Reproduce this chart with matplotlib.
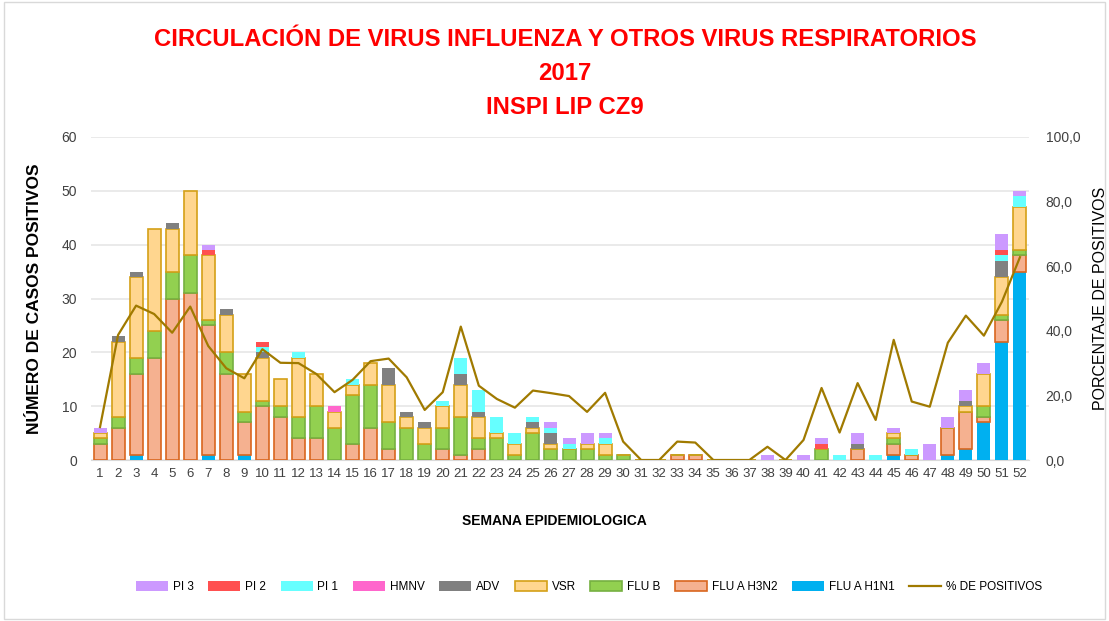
import matplotlib
matplotlib.use("Agg")
import matplotlib.pyplot as plt
import numpy as np
from matplotlib.patches import Rectangle
from matplotlib.lines import Line2D

plt.rcParams["font.family"] = ["Liberation Sans", "DejaVu Sans"]

weeks = list(range(1, 53))

h1n1 = [0,0,1,0,0,0,1,0,1,0, 0,0,0,0,0,0,0,0,0,0, 0,0,0,0,0,0,0,0,0,0,
        0,0,0,0,0,0,0,0,0,0, 0,0,0,0,1,0,0,1,2,7, 22,35]
h3n2 = [3,6,15,19,30,31,24,16,6,10, 8,4,4,0,3,6,2,0,0,2, 1,2,0,0,0,0,0,0,0,0,
        0,0,1,1,0,0,0,0,0,0, 0,0,2,0,2,1,0,5,7,1, 4,3]
flub = [1,2,3,5,5,7,1,4,2,1, 2,4,6,6,9,8,5,6,3,4, 7,2,4,1,5,2,2,2,1,1,
        0,0,0,0,0,0,0,0,0,0, 2,0,0,0,1,0,0,0,0,2, 1,1]
vsr = [1,14,15,19,8,12,12,7,7,8, 5,11,6,3,2,4,7,2,3,4, 6,4,1,2,1,1,0,1,2,0,
       0,0,0,0,0,0,0,0,0,0, 0,0,0,0,1,0,0,0,1,6, 7,8]
adv = [0,1,1,0,1,0,0,1,0,1, 0,0,0,0,0,0,3,1,1,0, 2,1,0,0,1,2,0,0,0,0,
       0,0,0,0,0,0,0,0,0,0, 0,0,1,0,0,0,0,0,1,0, 3,0]
hmnv = [0,0,0,0,0,0,0,0,0,0, 0,0,0,1,0,0,0,0,0,0, 0,0,0,0,0,0,0,0,0,0,
        0,0,0,0,0,0,0,0,0,0, 0,0,0,0,0,0,0,0,0,0, 0,0]
pi1 = [0,0,0,0,0,0,0,0,0,1, 0,1,0,0,1,0,0,0,0,1, 3,4,3,2,1,1,1,0,1,0,
       0,0,0,0,0,0,0,0,0,0, 0,1,0,1,0,1,0,0,0,0, 1,2]
pi2 = [0,0,0,0,0,0,1,0,0,1, 0,0,0,0,0,0,0,0,0,0, 0,0,0,0,0,0,0,0,0,0,
       0,0,0,0,0,0,0,0,0,0, 1,0,0,0,0,0,0,0,0,0, 1,0]
pi3 = [1,0,0,0,0,0,1,0,0,0, 0,0,0,0,0,0,0,0,0,0, 0,0,0,0,0,1,1,2,1,0,
       0,0,0,0,0,0,0,1,0,1, 1,0,2,0,1,0,3,2,2,2, 3,1]
pct = [10.2,38.7,47.8,45.2,39.4,47.5,35.3,28.4,25.3,34.3,
       30.1,30.0,26.6,21.0,24.8,30.6,31.4,25.6,15.5,21.0,
       41.3,23.0,18.9,16.2,21.5,20.7,19.8,14.9,20.8,5.7,
       0,0,5.7,5.4,0,0,0,4.1,0,6.2,
       22.3,8.5,23.8,12.4,37.2,18.1,16.5,36.3,44.7,38.5,
       49.0,62.8]

series = [
    ("FLU A H1N1", h1n1, "#00B0F0", "#00B0F0"),
    ("FLU A H3N2", h3n2, "#F5B190", "#D9661F"),
    ("FLU B", flub, "#92D050", "#76B041"),
    ("VSR", vsr, "#FFD68F", "#D4A017"),
    ("ADV", adv, "#808080", "#808080"),
    ("HMNV", hmnv, "#FF66CC", "#FF66CC"),
    ("PI 1", pi1, "#66FFFF", "#66FFFF"),
    ("PI 2", pi2, "#FF5050", "#FF5050"),
    ("PI 3", pi3, "#CC99FF", "#CC99FF"),
]

fig = plt.figure(figsize=(11.09, 6.21), dpi=100)
ax = fig.add_axes([91/1109, 1-460/621, (1029-91)/1109, (460-137)/621])
ax2 = ax.twinx()

x = np.arange(len(weeks))
bottom = np.zeros(len(weeks))
handles = {}
for name, vals, fc, ec in series:
    v = np.array(vals, dtype=float)
    lw = 1.2 if ec != fc else 0
    b = ax.bar(x, v, bottom=bottom, width=0.72, color=fc, edgecolor=ec, linewidth=lw, zorder=3)
    handles[name] = b
    bottom += v

line, = ax2.plot(x, pct, color="#A07A00", linewidth=1.6, zorder=4)

ax.set_ylim(0, 60)
ax.set_yticks(range(0, 61, 10))
ax2.set_ylim(0, 100)
ax2.set_yticks(range(0, 101, 20))
ax2.set_yticklabels([f"{v},0" for v in range(0, 101, 20)])
ax.set_xlim(-0.5, len(weeks) - 0.5)
ax.set_xticks(x)
ax.set_xticklabels([str(w) for w in weeks])
ax.grid(axis="y", color="#E6E6E6", linewidth=1.2, zorder=0)
ax.set_axisbelow(True)
for a in (ax, ax2):
    for s in a.spines.values():
        s.set_visible(False)
    a.tick_params(length=0, labelsize=10, colors="#404040")
ax.tick_params(axis="x", labelsize=9.5)
ax.spines["bottom"].set_visible(True)
ax.spines["bottom"].set_color("#D9D9D9")
ax.tick_params(axis="x", pad=6)
ax.tick_params(axis="y", pad=10)
ax2.tick_params(axis="y", pad=12)

ax.set_ylabel("NÚMERO DE CASOS POSITIVOS", fontsize=12.5, fontweight="bold", color="black", labelpad=14)
ax2.set_ylabel("PORCENTAJE DE POSITIVOS", fontsize=11.5, color="black", labelpad=9)
fig.text(0.5, 1-521/621, "SEMANA EPIDEMIOLOGICA", ha="center", va="center", fontsize=10, fontweight="bold")

title_lines = ["CIRCULACIÓN DE VIRUS INFLUENZA Y OTROS VIRUS RESPIRATORIOS", "2017", "INSPI LIP CZ9"]
for i, t in enumerate(title_lines):
    fig.text(565/1109, 1-(40+33.5*i)/621, t, ha="center", va="center", fontsize=17.2,
             fontweight="bold", color="#FF0000")

order = ["PI 3", "PI 2", "PI 1", "HMNV", "ADV", "VSR", "FLU B", "FLU A H3N2", "FLU A H1N1"]
lh = [handles[n] for n in order] + [Line2D([0], [0], color="#A07A00", lw=1.6)]
labels = order + ["% DE POSITIVOS"]
fig.legend(lh, labels, loc="center", bbox_to_anchor=(589/1109, 1-587/621), ncol=10, frameon=False,
           fontsize=8.5, handlelength=2.7, handleheight=0.9, columnspacing=1.25, handletextpad=0.4)

fig.patches.append(Rectangle((0.004, 0.004), 0.992, 0.992, transform=fig.transFigure,
                             fill=False, edgecolor="#D9D9D9", linewidth=1))

fig.savefig("out.png", dpi=100)
